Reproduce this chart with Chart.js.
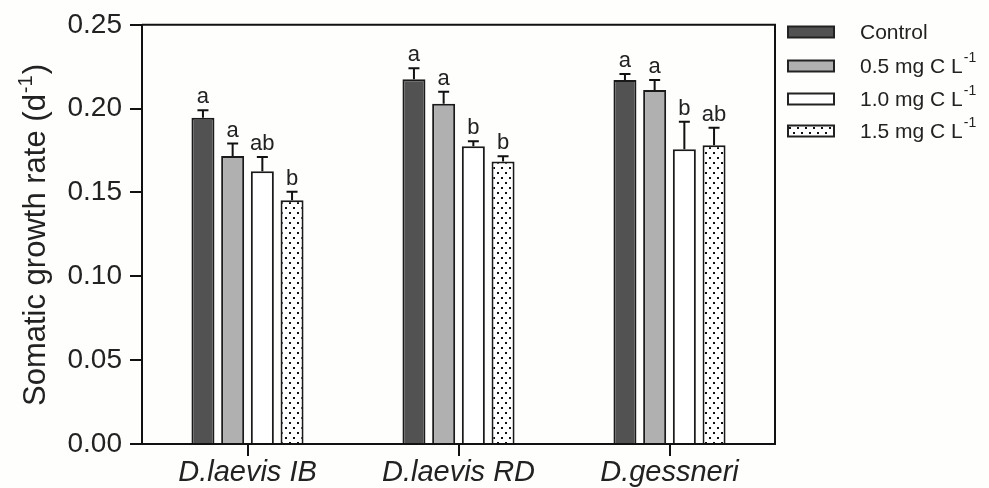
<!DOCTYPE html>
<html>
<head>
<meta charset="utf-8">
<script src="https://cdn.jsdelivr.net/npm/chart.js@4.4.1/dist/chart.umd.min.js"></script>
<style>
    html, body {
        margin: 0;
        padding: 0;
        background: #fefefd;
    }

    #wrap {
        width: 989px;
        height: 488px;
    }
</style>
</head>
<body>
<div id="wrap">
    <canvas id="growthChart" width="989" height="488"></canvas>
</div>

<script>
const categories = ["D.laevis IB", "D.laevis RD", "D.gessneri"];

const treatments = ["Control", "0.5 mg C L", "1.0 mg C L", "1.5 mg C L"];

const controlValues = [0.1946, 0.2175, 0.2171];
const c05Values = [0.1718, 0.2029, 0.2111];
const c10Values = [0.1627, 0.1776, 0.1758];
const c15Values = [0.1453, 0.1685, 0.1782];

const controlErrors = [0.0044, 0.0066, 0.0036];
const c05Errors = [0.0074, 0.0072, 0.0060];
const c10Errors = [0.0084, 0.0030, 0.0164];
const c15Errors = [0.0052, 0.0031, 0.0104];

const controlLetters = ["a", "a", "a"];
const c05Letters = ["a", "a", "a"];
const c10Letters = ["ab", "b", "b"];
const c15Letters = ["b", "b", "ab"];

const yTicks = [0, 0.05, 0.10, 0.15, 0.20, 0.25];

const FONT = "'Liberation Sans', Arial, sans-serif";

function makeDotPattern() {

    const tile = document.createElement("canvas");
    tile.width = 8;
    tile.height = 10;

    const t = tile.getContext("2d");
    t.fillStyle = "#ffffff";
    t.fillRect(0, 0, 8, 10);
    t.fillStyle = "#111111";
    t.fillRect(1, 2, 2, 2);
    t.fillRect(5, 7, 2, 2);

    return t.createPattern(tile, "repeat");
}

const dots = makeDotPattern();

const fills = ["#525252", "#b0b0b0", "#ffffff", dots];

const errorSets = [controlErrors, c05Errors, c10Errors, c15Errors];
const letterSets = [controlLetters, c05Letters, c10Letters, c15Letters];

// error caps, letters, frame, legend and axis title
const extras = {
    id: "extras",

    afterDatasetsDraw(chart) {

        const ctx = chart.ctx;
        const y = chart.scales.y;
        const area = chart.chartArea;

        ctx.save();
        ctx.strokeStyle = "#111";
        ctx.lineWidth = 2;

        // frame top + right
        ctx.beginPath();
        ctx.moveTo(area.left, area.top);
        ctx.lineTo(area.right, area.top);
        ctx.lineTo(area.right, area.bottom);
        ctx.stroke();

        chart.data.datasets.forEach((ds, i) => {

            const meta = chart.getDatasetMeta(i);

            meta.data.forEach((bar, j) => {

                const top = y.getPixelForValue(ds.data[j]);
                const errTop = y.getPixelForValue(ds.data[j] + errorSets[i][j]);

                ctx.beginPath();
                ctx.moveTo(bar.x, top);
                ctx.lineTo(bar.x, errTop);
                ctx.moveTo(bar.x - 5.5, errTop);
                ctx.lineTo(bar.x + 5.5, errTop);
                ctx.stroke();

                ctx.fillStyle = "#222";
                ctx.font = "22px " + FONT;
                ctx.textAlign = "center";
                ctx.textBaseline = "alphabetic";
                ctx.fillText(letterSets[i][j], bar.x, errTop - 7);
            });
        });

        ctx.restore();
    },

    afterDraw(chart) {

        const ctx = chart.ctx;

        ctx.save();

        // legend
        const boxX = 788;
        const rowsY = [32, 66, 99, 131];

        treatments.forEach((name, i) => {

            const cy = rowsY[i];

            ctx.fillStyle = fills[i];
            ctx.fillRect(boxX, cy - 5.5, 46, 11);
            ctx.strokeStyle = "#222";
            ctx.lineWidth = 2;
            ctx.strokeRect(boxX, cy - 5.5, 46, 11);

            ctx.fillStyle = "#222";
            ctx.textAlign = "left";
            ctx.textBaseline = "middle";
            ctx.font = "21px " + FONT;
            ctx.fillText(name, 860, cy + 1);

            if (i > 0) {
                const w = ctx.measureText(name).width;
                ctx.font = "14px " + FONT;
                ctx.fillText("-1", 860 + w + 1, cy - 8);
            }
        });

        // y axis title
        ctx.translate(36, 235);
        ctx.rotate(-Math.PI / 2);
        ctx.fillStyle = "#222";
        ctx.textBaseline = "middle";
        ctx.textAlign = "left";

        const main = "Somatic growth rate (d";
        ctx.font = "31px " + FONT;
        const mainW = ctx.measureText(main).width;
        ctx.font = "20px " + FONT;
        const supW = ctx.measureText("-1").width;
        ctx.font = "31px " + FONT;
        const closeW = ctx.measureText(")").width;

        const start = -(mainW + supW + closeW + 2) / 2;

        ctx.fillText(main, start, 0);
        ctx.font = "20px " + FONT;
        ctx.fillText("-1", start + mainW + 1, -10);
        ctx.font = "31px " + FONT;
        ctx.fillText(")", start + mainW + supW + 2, 0);

        ctx.restore();
    }
};

new Chart(document.getElementById("growthChart"), {

    type: "bar",

    data: {
        labels: categories,
        datasets: [
            {
                label: treatments[0],
                data: controlValues,
                backgroundColor: fills[0]
            },
            {
                label: treatments[1],
                data: c05Values,
                backgroundColor: fills[1]
            },
            {
                label: treatments[2],
                data: c10Values,
                backgroundColor: fills[2]
            },
            {
                label: treatments[3],
                data: c15Values,
                backgroundColor: fills[3]
            }
        ]
    },

    options: {
        responsive: false,
        animation: false,
        devicePixelRatio: 1,

        layout: {
            padding: { left: 0, right: 214, top: 24, bottom: 0 }
        },

        datasets: {
            bar: {
                borderColor: "#1a1a1a",
                borderWidth: 2,
                categoryPercentage: 0.563,
                barPercentage: 0.775
            }
        },

        plugins: {
            legend: { display: false },
            tooltip: { enabled: false }
        },

        scales: {
            x: {
                afterFit(scale) {
                    scale.height = 44;
                },
                grid: {
                    offset: false,
                    drawOnChartArea: false,
                    tickLength: 12,
                    color: "#111",
                    lineWidth: 2
                },
                border: { color: "#111", width: 2 },
                ticks: {
                    padding: 0,
                    color: "#222",
                    font: { family: FONT, size: 29, style: "italic" }
                }
            },

            y: {
                min: 0,
                max: 0.25,
                afterFit(scale) {
                    scale.width = 142;
                },
                afterBuildTicks(scale) {
                    scale.ticks = yTicks.map(v => ({ value: v }));
                },
                grid: {
                    drawOnChartArea: false,
                    tickLength: 12,
                    color: "#111",
                    lineWidth: 2
                },
                border: { color: "#111", width: 2 },
                ticks: {
                    padding: 8,
                    color: "#222",
                    font: { family: FONT, size: 28 },
                    callback: v => Number(v).toFixed(2)
                }
            }
        }
    },

    plugins: [extras]
});
</script>
</body>
</html>
